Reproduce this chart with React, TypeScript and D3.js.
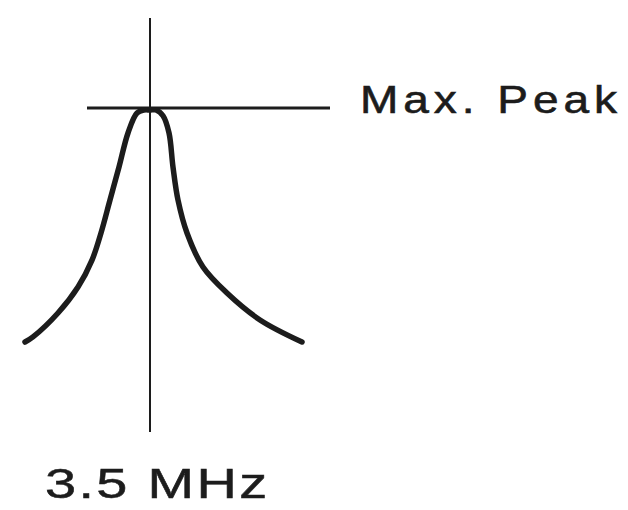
import React from "react";
import * as d3 from "d3";

// Response curve: frequency offset from centre (arbitrary units) vs relative amplitude
const leftOffsets = [-125, -117, -92, -72, -58, -49, -40, -31, -22, -13, -6, 0];
const leftAmps = [0.0, 0.022, 0.125, 0.237, 0.353, 0.47, 0.612, 0.754, 0.901, 0.987, 1.0, 1.0];
const rightOffsets = [6, 13, 19, 23, 28, 37, 53, 77, 110, 152];
const rightAmps = [1.0, 0.975, 0.901, 0.754, 0.612, 0.47, 0.323, 0.211, 0.095, 0.0];

const centreLabel = "3.5 MHz";
const peakLabel = "Max. Peak";

export default function App() {
  const W = 628;
  const H = 510;
  const x = d3.scaleLinear().domain([-125, 152]).range([25, 302]);
  const y = d3.scaleLinear().domain([0, 1]).range([342, 110]);

  const pts: [number, number][] = [
    ...leftOffsets.map((o, i) => [o, leftAmps[i]] as [number, number]),
    ...rightOffsets.map((o, i) => [o, rightAmps[i]] as [number, number]),
  ];
  const line = d3
    .line<[number, number]>()
    .x((d) => x(d[0]))
    .y((d) => y(d[1]))
    .curve(d3.curveCatmullRom.alpha(0.5));

  const ink = "#1c1c1c";
  const cx = x(0);

  return (
    <svg
      width={W}
      height={H}
      style={{ position: "absolute", left: 0, top: 0, background: "#fff" }}
      fontFamily="'Liberation Sans', Arial, sans-serif"
    >
      <line x1={cx} x2={cx} y1={18} y2={432} stroke={ink} strokeWidth={2} />
      <line x1={87} x2={330} y1={y(1) - 2} y2={y(1) - 2} stroke={ink} strokeWidth={3} />
      <path d={line(pts) || ""} fill="none" stroke={ink} strokeWidth={5.5} strokeLinecap="round" strokeLinejoin="round" />
      <g transform="translate(360,113) scale(1.18,1)">
        <text x={0} y={0} fontSize={39} fill={ink} stroke={ink} strokeWidth={0.6} letterSpacing={4.2}>
          {peakLabel}
        </text>
      </g>
      <g transform="translate(45,498) scale(1.3,1)">
        <text x={0} y={0} fontSize={43} fill={ink} stroke={ink} strokeWidth={0.5} letterSpacing={1.8}>
          {centreLabel}
        </text>
      </g>
    </svg>
  );
}
